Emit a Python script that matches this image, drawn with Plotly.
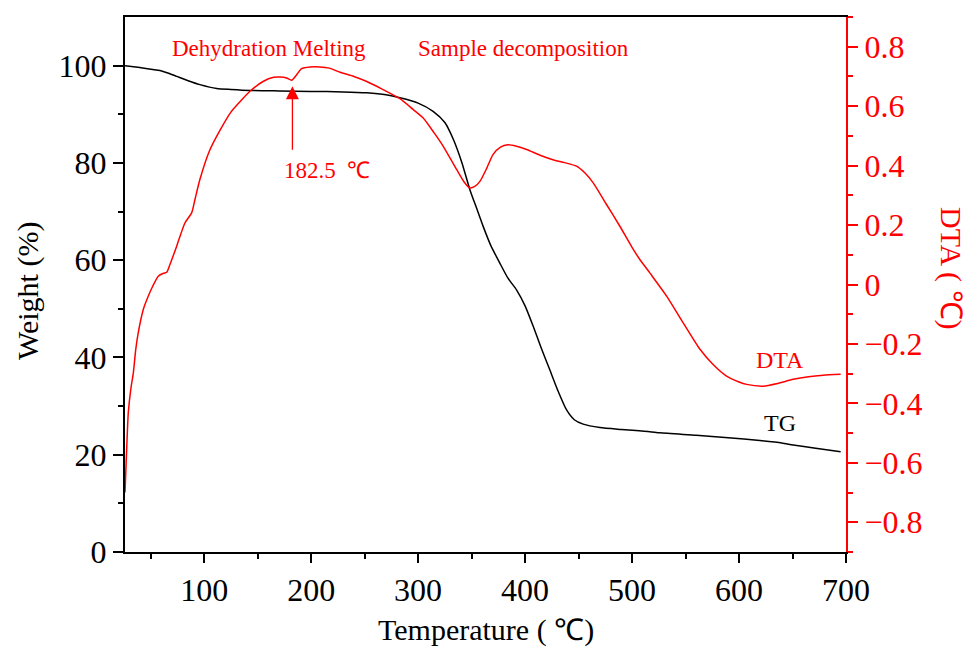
import plotly.graph_objects as go

# ---- data ----
tg_temp = [26, 40, 58.7, 66, 74.3, 85, 96, 111.7, 125, 142.8, 170, 200, 230, 252, 270, 283,
           300, 314, 325, 333, 341, 348.4, 355, 360.9, 368, 376.4, 384, 392, 400, 407.6, 415,
           423.2, 431, 438.8, 446, 454.3, 470, 490, 516.6, 526, 560, 590, 619.5, 640, 650.6,
           670, 695]
tg_weight = [100.0, 99.6, 99.0, 98.5, 97.8, 96.9, 96.1, 95.3, 95.1, 94.9, 94.8, 94.7, 94.6,
             94.4, 94.0, 93.4, 92.3, 90.6, 88.3, 84.8, 80.0, 74.5, 70.5, 66.9, 63.0, 59.4,
             56.3, 53.9, 50.6, 46.4, 42.0, 37.4, 33.0, 29.2, 27.2, 26.3, 25.6, 25.2, 24.75,
             24.5, 24.0, 23.5, 22.9, 22.4, 22.0, 21.4, 20.6]

dta_temp = [26, 27.5, 29.1, 31.5, 33.8, 36, 38.4, 43.1, 47.8, 52, 57.1, 62, 65, 68, 74.3, 82,
            88.3, 91.4, 96, 105, 115, 125, 133.5, 142.8, 155, 165, 170.9, 177, 181.8, 186.5,
            191, 199, 208, 217, 227, 240, 252, 265, 283, 295, 304.8, 315, 323.5, 336, 343,
            348.4, 353, 357.8, 364, 370, 377, 384, 392, 401.4, 414, 426, 437, 448, 456, 463.7,
            476, 488.6, 500, 507.3, 516.6, 532.3, 548, 563.5, 576, 588.3, 600, 607, 622.5,
            636, 650.6, 665, 678.6, 695]
dta_value = [-0.70, -0.56, -0.43, -0.35, -0.297, -0.22, -0.162, -0.084, -0.039, -0.005, 0.028,
             0.038, 0.041, 0.067, 0.129, 0.207, 0.241, 0.286, 0.353, 0.45, 0.52, 0.58, 0.615,
             0.65, 0.683, 0.697, 0.698, 0.695, 0.687, 0.706, 0.726, 0.732, 0.732, 0.728, 0.714,
             0.70, 0.683, 0.66, 0.625, 0.59, 0.56, 0.51, 0.465, 0.387, 0.345, 0.325, 0.33,
             0.347, 0.39, 0.437, 0.462, 0.47, 0.465, 0.454, 0.435, 0.42, 0.41, 0.398, 0.375,
             0.342, 0.27, 0.196, 0.125, 0.084, 0.039, -0.039, -0.13, -0.218, -0.27, -0.308,
             -0.328, -0.336, -0.342, -0.333, -0.319, -0.31, -0.305, -0.302]

x_ticks = [100, 200, 300, 400, 500, 600, 700]
x_minor = [50, 150, 250, 350, 450, 550, 650]
y_ticks = [0, 20, 40, 60, 80, 100]
y_minor = [10, 30, 50, 70, 90]
y2_ticks = [-0.8, -0.6, -0.4, -0.2, 0, 0.2, 0.4, 0.6, 0.8]
y2_ticktext = ['\u22120.8', '\u22120.6', '\u22120.4', '\u22120.2', '0', '0.2', '0.4', '0.6', '0.8']
y2_minor = [-0.9, -0.7, -0.5, -0.3, -0.1, 0.1, 0.3, 0.5, 0.7, 0.9]

FONT = 'Liberation Serif'
RED = '#ff0000'
TICK_SIZE = 32

fig = go.Figure()
fig.add_trace(go.Scatter(x=tg_temp, y=tg_weight, mode='lines', name='TG',
                         line=dict(color='black', width=1.5, shape='spline', smoothing=0.6),
                         yaxis='y'))
fig.add_trace(go.Scatter(x=dta_temp, y=dta_value, mode='lines', name='DTA',
                         line=dict(color=RED, width=1.5, shape='spline', smoothing=0.6),
                         yaxis='y2'))

L, R, T, B = 125, 846, 17, 552
W, H = R - L, B - T


def px(xp):
    return (xp - L) / W


def py(yp):
    return (B - yp) / H


fig.update_layout(
    width=969, height=649,
    margin=dict(l=L, r=969 - R, t=T, b=649 - B),
    plot_bgcolor='white', paper_bgcolor='white',
    showlegend=False,
    font=dict(family=FONT, color='black'),
    xaxis=dict(range=[26, 700], tickvals=x_ticks, ticks='outside', ticklen=9, tickwidth=2,
               tickcolor='black', showline=True, linewidth=2, linecolor='black', mirror=True,
               showgrid=False, zeroline=False, tickfont=dict(size=TICK_SIZE, family=FONT),
               minor=dict(tickvals=x_minor, ticks='outside', ticklen=5, tickwidth=2,
                          tickcolor='black')),
    yaxis=dict(range=[0, 110], tickvals=y_ticks, ticks='outside', ticklen=10, tickwidth=2,
               tickcolor='black', showline=True, linewidth=2, linecolor='black',
               showgrid=False, zeroline=False, tickfont=dict(size=TICK_SIZE, family=FONT),
               minor=dict(tickvals=y_minor, ticks='outside', ticklen=5, tickwidth=2,
                          tickcolor='black')),
    yaxis2=dict(range=[-0.9, 0.9], overlaying='y', side='right', tickvals=y2_ticks,
                ticktext=y2_ticktext, ticks='outside', ticklen=10, tickwidth=2, tickcolor=RED,
                showline=True, linewidth=2, linecolor=RED, showgrid=False, zeroline=False,
                tickfont=dict(size=TICK_SIZE, family=FONT, color=RED),
                minor=dict(tickvals=y2_minor, ticks='outside', ticklen=5, tickwidth=2,
                           tickcolor=RED)),
)

annotations = [
    dict(text='Weight (%)', x=px(28), y=py(291), xref='paper', yref='paper', textangle=-90,
         showarrow=False, font=dict(size=30, family=FONT, color='black'),
         xanchor='center', yanchor='middle'),
    dict(text='DTA ( \u2103)', x=px(951), y=py(268), xref='paper', yref='paper', textangle=90,
         showarrow=False, font=dict(size=30, family=FONT, color=RED),
         xanchor='center', yanchor='middle'),
    dict(text='Temperature ( \u2103)', x=px(486), y=py(630), xref='paper', yref='paper',
         showarrow=False, font=dict(size=30, family=FONT, color='black'),
         xanchor='center', yanchor='middle'),
    dict(text='Dehydration Melting', x=px(269), y=py(48), xref='paper', yref='paper',
         showarrow=False, font=dict(size=23, family=FONT, color=RED),
         xanchor='center', yanchor='middle'),
    dict(text='Sample decomposition', x=px(523), y=py(48), xref='paper', yref='paper',
         showarrow=False, font=dict(size=23, family=FONT, color=RED),
         xanchor='center', yanchor='middle'),
    dict(text='182.5  \u2103', x=px(327), y=py(170), xref='paper', yref='paper',
         showarrow=False, font=dict(size=23, family=FONT, color=RED),
         xanchor='center', yanchor='middle'),
    dict(text='DTA', x=px(780), y=py(360), xref='paper', yref='paper',
         showarrow=False, font=dict(size=24, family=FONT, color=RED),
         xanchor='center', yanchor='middle'),
    dict(text='TG', x=px(780), y=py(423), xref='paper', yref='paper',
         showarrow=False, font=dict(size=24, family=FONT, color='black'),
         xanchor='center', yanchor='middle'),
    dict(text='', x=182.5, y=0.667, xref='x', yref='y2', showarrow=True, ax=0, ay=65,
         axref='pixel', ayref='pixel', arrowhead=2, arrowsize=2, arrowwidth=1.3,
         arrowcolor=RED),
]
fig.update_layout(annotations=annotations)

fig.write_html('out.html', config={'displayModeBar': False},
               post_script="document.body.style.margin='0';document.body.style.overflow='hidden';")
